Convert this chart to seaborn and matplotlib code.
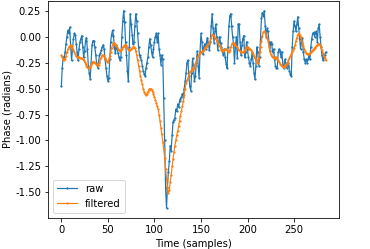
import numpy as np
import pandas as pd
import matplotlib
matplotlib.use('Agg')
import matplotlib.pyplot as plt
import seaborn as sns

plt.rcParams['axes.unicode_minus'] = False

# phase values (radians), one per sample
raw = [
    -0.48, -0.30, -0.20, -0.20, -0.15, -0.07, 0.00, 0.06, 0.03, 0.09,
    -0.09, -0.23, -0.12, -0.02, 0.03, 0.02, -0.07, -0.15, -0.23, -0.12,
    -0.05, -0.02, 0.01, -0.10, -0.20, -0.14, -0.04, -0.01, -0.12, -0.28,
    -0.35, -0.41, -0.25, -0.08, -0.04, -0.04, -0.10, -0.18, -0.26, -0.30,
    -0.24, -0.18, -0.16, -0.13, -0.10, -0.08, -0.12, -0.22, -0.30, -0.38,
    -0.43, -0.40, -0.22, -0.05, 0.02, 0.06, 0.01, -0.10, -0.16, -0.08,
    -0.12, -0.16, -0.20, -0.23, -0.20, 0.00, 0.15, 0.25, 0.14, -0.05,
    -0.18, -0.33, -0.43, -0.10, 0.22, 0.12, 0.02, -0.07, -0.05, 0.10,
    0.22, 0.15, 0.03, -0.10, -0.18, -0.20, -0.23, -0.28, -0.33, -0.36,
    -0.38, -0.30, -0.25, -0.20, -0.10, -0.02, -0.08, -0.15, -0.20, -0.12,
    -0.05, 0.00, 0.03, -0.05, 0.03, -0.12, -0.18, -0.27, -0.18, -0.22,
    -0.59, -1.00, -1.46, -1.65, -1.45, -1.30, -1.20, -1.05, -1.10, -0.95,
    -0.82, -0.80, -0.78, -0.70, -0.72, -0.65, -0.68, -0.62, -0.60, -0.58,
    -0.55, -0.58, -0.50, -0.43, -0.35, -0.25, -0.23, -0.38, -0.48, -0.52,
    -0.35, -0.21, -0.30, -0.43, -0.38, -0.25, -0.14, -0.28, -0.40, -0.15,
    0.03, -0.05, -0.17, -0.10, -0.07, -0.12, -0.05, -0.01, -0.08, -0.13,
    -0.05, 0.10, 0.22, 0.08, -0.06, 0.05, 0.12, 0.00, -0.13, -0.05,
    0.00, -0.06, -0.10, -0.14, -0.18, -0.12, -0.20, -0.26, -0.30, -0.10,
    0.10, 0.20, 0.22, 0.10, 0.00, -0.07, -0.25, -0.10, 0.00, -0.21,
    0.12, 0.12, -0.05, -0.18, -0.08, -0.02, 0.01, -0.20, -0.15, -0.05,
    -0.12, -0.20, -0.25, -0.28, -0.22, -0.15, -0.25, -0.35, -0.41, -0.28,
    -0.10, -0.15, -0.28, -0.20, 0.00, 0.18, 0.23, 0.20, 0.25, 0.10,
    0.00, 0.08, 0.05, -0.05, -0.14, -0.05, -0.07, -0.15, -0.12, -0.22,
    -0.28, -0.30, -0.30, -0.15, -0.12, -0.14, -0.20, -0.15, -0.28, -0.30,
    -0.22, -0.25, -0.30, -0.28, -0.25, -0.33, -0.36, -0.38, -0.10, 0.05,
    0.15, 0.10, 0.05, 0.12, 0.19, 0.08, -0.02, -0.12, -0.05, -0.01,
    -0.15, -0.22, -0.25, -0.22, -0.25, -0.22, -0.18, -0.22, -0.10, -0.02,
    0.03, 0.04, 0.00, 0.03, 0.05, -0.05, 0.08, 0.12, 0.00, -0.10,
    -0.18, -0.23, -0.20, -0.18, -0.15,
]

filtered = [
    -0.18, -0.20, -0.22, -0.23, -0.22, -0.19, -0.15, -0.12, -0.10, -0.09,
    -0.08, -0.09, -0.11, -0.13, -0.15, -0.17, -0.19, -0.20, -0.20, -0.20,
    -0.21, -0.21, -0.21, -0.22, -0.23, -0.24, -0.26, -0.28, -0.29, -0.30,
    -0.30, -0.29, -0.27, -0.25, -0.24, -0.24, -0.25, -0.26, -0.27, -0.27,
    -0.27, -0.25, -0.22, -0.20, -0.18, -0.18, -0.19, -0.21, -0.23, -0.24,
    -0.24, -0.22, -0.19, -0.15, -0.11, -0.08, -0.06, -0.06, -0.07, -0.08,
    -0.10, -0.12, -0.13, -0.14, -0.13, -0.12, -0.10, -0.09, -0.08, -0.08,
    -0.09, -0.11, -0.12, -0.13, -0.13, -0.12, -0.11, -0.10, -0.10, -0.11,
    -0.14, -0.18, -0.23, -0.28, -0.33, -0.38, -0.42, -0.46, -0.50, -0.53,
    -0.55, -0.56, -0.55, -0.53, -0.51, -0.50, -0.50, -0.51, -0.53, -0.55,
    -0.58, -0.61, -0.64, -0.67, -0.70, -0.75, -0.81, -0.88, -0.94, -1.01,
    -1.08, -1.17, -1.27, -1.37, -1.46, -1.51, -1.48, -1.40, -1.33, -1.25,
    -1.18, -1.11, -1.05, -1.00, -0.95, -0.91, -0.86, -0.81, -0.76, -0.72,
    -0.67, -0.62, -0.56, -0.50, -0.45, -0.42, -0.40, -0.37, -0.34, -0.33,
    -0.32, -0.31, -0.30, -0.28, -0.26, -0.24, -0.21, -0.19, -0.17, -0.16,
    -0.15, -0.14, -0.14, -0.13, -0.11, -0.10, -0.09, -0.08, -0.07, -0.06,
    -0.04, -0.01, 0.02, 0.02, 0.01, -0.01, -0.02, -0.04, -0.06, -0.08,
    -0.09, -0.11, -0.13, -0.14, -0.14, -0.13, -0.12, -0.12, -0.13, -0.14,
    -0.15, -0.13, -0.10, -0.07, -0.06, -0.06, -0.07, -0.08, -0.09, -0.10,
    -0.12, -0.13, -0.14, -0.15, -0.15, -0.15, -0.15, -0.13, -0.11, -0.10,
    -0.10, -0.11, -0.12, -0.12, -0.13, -0.15, -0.17, -0.19, -0.21, -0.23,
    -0.25, -0.25, -0.21, -0.15, -0.10, -0.04, 0.01, 0.04, 0.05, 0.04,
    0.02, -0.01, -0.04, -0.09, -0.14, -0.17, -0.19, -0.20, -0.21, -0.21,
    -0.20, -0.20, -0.21, -0.23, -0.24, -0.26, -0.27, -0.28, -0.29, -0.29,
    -0.28, -0.27, -0.26, -0.25, -0.23, -0.21, -0.19, -0.17, -0.15, -0.13,
    -0.11, -0.08, -0.04, -0.01, 0.02, 0.03, 0.02, 0.00, -0.03, -0.06,
    -0.09, -0.12, -0.14, -0.16, -0.17, -0.17, -0.17, -0.16, -0.15, -0.14,
    -0.13, -0.12, -0.11, -0.10, -0.09, -0.08, -0.07, -0.07, -0.08, -0.10,
    -0.13, -0.16, -0.19, -0.21, -0.23,
]

samples = np.arange(len(raw))
df = pd.DataFrame({'Time (samples)': samples, 'raw': raw, 'filtered': filtered})

fig = plt.figure(figsize=(370 / 72, 249 / 72), dpi=72)
ax = fig.add_axes([0.13, 0.125, 0.786, 0.872])

sns.lineplot(data=df, x='Time (samples)', y='raw', ax=ax, color='tab:blue',
             linewidth=1.2, marker='.', markersize=4.5, markeredgewidth=0,
             label='raw')
sns.lineplot(data=df, x='Time (samples)', y='filtered', ax=ax, color='tab:orange',
             linewidth=1.2, marker='.', markersize=4.5, markeredgewidth=0,
             label='filtered')

ax.set_xlabel('Time (samples)')
ax.set_ylabel('Phase (radians)', labelpad=3)
ax.legend(loc='lower left')

fig.savefig('out.png', dpi=72)
